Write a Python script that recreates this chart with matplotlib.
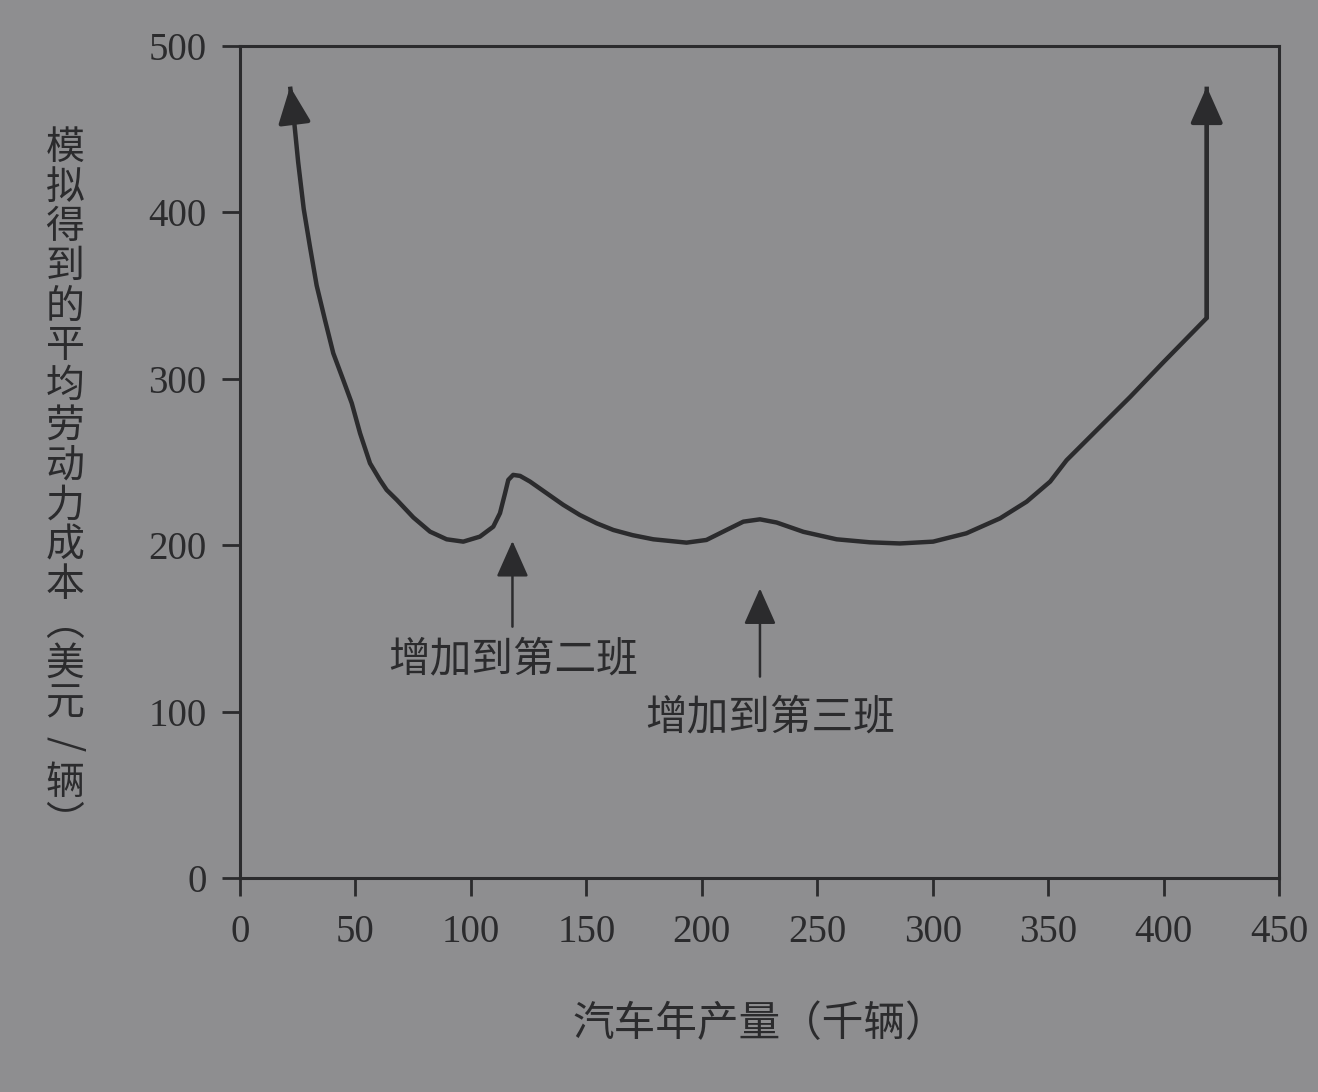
import matplotlib
matplotlib.use("Agg")
import matplotlib.pyplot as plt

# curve (x: thousand cars, y: $/car); first and last points are arrow tips
prod = [21.7, 23.1, 25.2, 27.6, 30.3, 33.2, 36.8, 40.4, 44.7, 48.4, 52.0, 56.3,
        60.6, 63.5, 67.9, 75.1, 82.3, 89.5, 96.7, 103.9, 109.7, 112.6, 114.8,
        116.2, 118.3, 121.3, 125.6, 132.8, 140.0, 147.2, 154.5, 161.7, 170.0,
        179.0, 193.4, 202.0, 210.7, 218.0, 225.2, 232.4, 244.0, 258.4, 272.8,
        285.8, 300.2, 314.6, 329.2, 340.7, 350.9, 358.0, 371.0, 385.5, 400.0,
        418.7, 418.7]
cost = [475.5, 459.5, 430.0, 402.0, 379.3, 356.0, 335.3, 315.3, 299.3, 285.3, 267.2, 249.2,
        239.2, 233.2, 227.2, 216.6, 208.1, 203.5, 202.1, 205.1, 211.1, 219.2, 231.2,
        239.2, 242.2, 241.6, 238.2, 231.2, 224.2, 218.1, 213.1, 209.1, 206.0,
        203.5, 201.5, 203.1, 209.1, 214.1, 215.5, 213.6, 208.0, 203.5, 201.7,
        201.0, 202.1, 207.1, 216.1, 226.1, 238.2, 251.0, 269.0, 289.0, 310.0,
        336.5, 475.5]

xticks = [0, 50, 100, 150, 200, 250, 300, 350, 400, 450]
yticks = [0, 100, 200, 300, 400, 500]

# shift markers
shift_labels = ["增加到第二班", "增加到第三班"]
shift_x = [118.0, 225.2]
shift_tail = [151.0, 121.0]
shift_tip = [202.5, 174.0]
label_x = [118.5, 229.5]
label_y = [131.0, 96.0]

xlabel = "汽车年产量（千辆）"
ylabel_chars = list("模拟得到的平均劳动力成本") + ["︵", "美", "元", "/", "辆", "︶"]

bg = "#8e8e90"
ink = "#2b2b2d"
cjk = ["Noto Sans CJK SC", "DejaVu Sans"]

fig = plt.figure(figsize=(13.18, 10.92), dpi=100, facecolor=bg)
ax = fig.add_axes([0.1821, 0.196, 0.7883, 0.762])
ax.set_facecolor(bg)

ax.plot(prod, cost, color=ink, lw=3.2, solid_capstyle="butt", solid_joinstyle="round")
# arrow heads at both ends of the curve
for a, b in [(0, 1), (-1, -2)]:
    ax.annotate("", xy=(prod[a], cost[a]), xytext=(prod[b], cost[b]),
                arrowprops=dict(arrowstyle="-|>,head_length=0.45,head_width=0.2",
                                mutation_scale=50, color=ink, lw=3.0,
                                shrinkA=0, shrinkB=0))

for i in range(len(shift_labels)):
    ax.annotate("", xy=(shift_x[i], shift_tip[i]), xytext=(shift_x[i], shift_tail[i]),
                arrowprops=dict(arrowstyle="-|>,head_length=0.45,head_width=0.2",
                                mutation_scale=50, color=ink, lw=1.8,
                                shrinkA=0, shrinkB=0))
    ax.text(label_x[i], label_y[i], shift_labels[i], ha="center", va="center",
            fontsize=30, color=ink, family=cjk)

ax.set_xlim(0, 450)
ax.set_ylim(0, 500)
ax.set_xticks(xticks)
ax.set_yticks(yticks)
ax.tick_params(direction="out", length=13, width=2, color=ink, labelcolor=ink,
               labelsize=28, pad=11)
ax.tick_params(axis="x", pad=13)
for lab in ax.get_xticklabels() + ax.get_yticklabels():
    lab.set_family("Liberation Serif")
for s in ax.spines.values():
    s.set_linewidth(2.2)
    s.set_color(ink)

ax.set_xlabel(xlabel, fontsize=30, color=ink, family=cjk, labelpad=38)

# vertical y label, one character per line
for i, ch in enumerate(ylabel_chars):
    fig.text(65 / 1318, 1 - (148 + i * 39.7) / 1092, ch, ha="center", va="center",
             fontsize=28, color=ink, family=cjk, rotation=-90 if ch == "/" else 0)

fig.savefig("out.png", dpi=100, facecolor=bg)
